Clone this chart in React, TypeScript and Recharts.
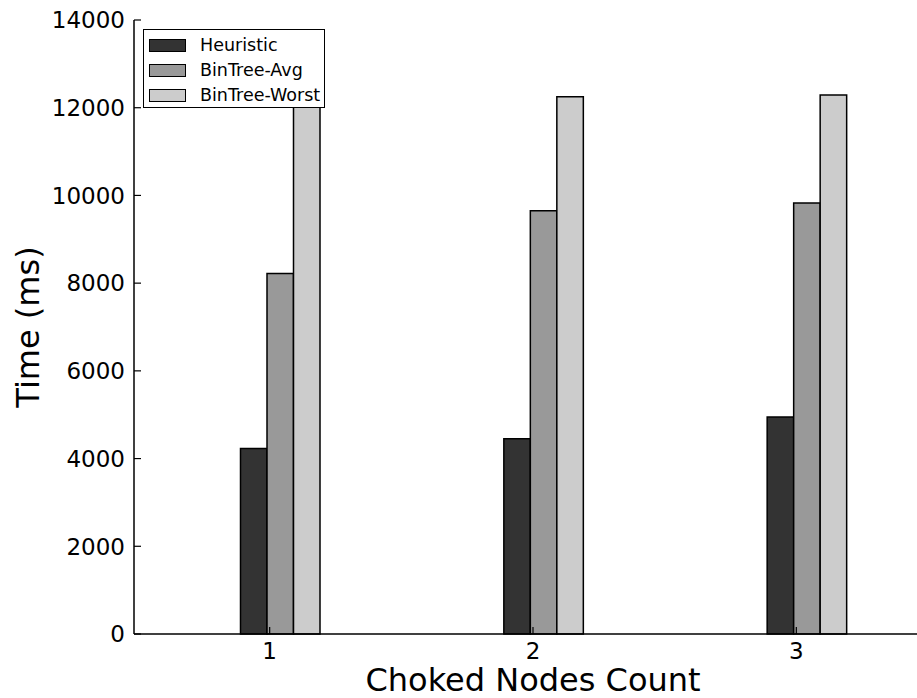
import React from 'react';
import { BarChart, Bar, XAxis, YAxis, Legend, Rectangle } from 'recharts';

// ── Data ──────────────────────────────────────────────────────

const CATEGORIES = ['1', '2', '3'];
const HEURISTIC = [4230, 4450, 4950];
const BINTREE_AVG = [8220, 9650, 9830];
const BINTREE_WORST = [12200, 12250, 12290];
const Y_TICKS = [0, 2000, 4000, 6000, 8000, 10000, 12000, 14000];

const SERIES = [
  { key: 'heuristic', name: 'Heuristic', color: '#333333' },
  { key: 'avg', name: 'BinTree-Avg', color: '#999999' },
  { key: 'worst', name: 'BinTree-Worst', color: '#cccccc' },
];

const data = CATEGORIES.map((name, i) => ({
  name,
  heuristic: HEURISTIC[i],
  avg: BINTREE_AVG[i],
  worst: BINTREE_WORST[i],
}));

// ── Layout ────────────────────────────────────────────────────

const FONT = '"DejaVu Sans", sans-serif';
const CHART_W = 936;
const CHART_H = 698;
const MARGIN = { top: 20, right: 4, bottom: 0, left: 0 };
const YAXIS_W = 134;
const XAXIS_H = 64;
const PLOT_TOP = MARGIN.top;
const PLOT_BOTTOM = CHART_H - MARGIN.bottom - XAXIS_H;
const PLOT_LEFT = MARGIN.left + YAXIS_W;
const TICK_LEN = 7;
const BAR_SHIFT = 10.5; // bars sit a little right of the tick, as in the original

// ── Ticks ─────────────────────────────────────────────────────

function YTick(props: any) {
  const { x, y, payload } = props;
  return (
    <g>
      <text x={x} y={y} dy="0.36em" textAnchor="end" fontSize={23} fontFamily={FONT} fill="#000">
        {payload.value}
      </text>
      <line x1={PLOT_LEFT} x2={PLOT_LEFT + TICK_LEN} y1={y} y2={y} stroke="#000" strokeWidth={1.2} />
    </g>
  );
}

function BottomTick(props: any) {
  const { x, y, payload } = props;
  return (
    <g>
      <text x={x} y={y} dy="0.72em" textAnchor="middle" fontSize={23} fontFamily={FONT} fill="#000">
        {payload.value}
      </text>
      <line x1={x} x2={x} y1={PLOT_BOTTOM} y2={PLOT_BOTTOM - TICK_LEN} stroke="#000" strokeWidth={1.2} />
    </g>
  );
}

function TopTick(props: any) {
  const { x } = props;
  return <line x1={x} x2={x} y1={PLOT_TOP} y2={PLOT_TOP + TICK_LEN} stroke="#000" strokeWidth={1.2} />;
}

function ShiftedBar(props: any) {
  return <Rectangle {...props} x={props.x + BAR_SHIFT} />;
}

// ── Legend ────────────────────────────────────────────────────

function LegendBox() {
  return (
    <div
      style={{
        position: 'relative',
        width: 182,
        height: 79,
        boxSizing: 'border-box',
        border: '1.5px solid #000',
        background: '#fff',
        fontFamily: FONT,
        fontSize: 17.5,
        color: '#000',
      }}
    >
      {SERIES.map((s, i) => (
        <div
          key={s.key}
          style={{ position: 'absolute', left: 5, top: 4 + i * 25, height: 22, display: 'flex', alignItems: 'center' }}
        >
          <div
            style={{
              width: 37,
              height: 13,
              boxSizing: 'border-box',
              border: '1.5px solid #000',
              background: s.color,
            }}
          />
          <span style={{ marginLeft: 14, whiteSpace: 'nowrap', lineHeight: '22px' }}>{s.name}</span>
        </div>
      ))}
    </div>
  );
}

// ── Chart ─────────────────────────────────────────────────────

export default function App() {
  return (
    <div
      style={{
        position: 'absolute',
        left: 0,
        top: 0,
        width: 917,
        height: 698,
        overflow: 'hidden',
        background: '#fff',
      }}
    >
      <BarChart width={CHART_W} height={CHART_H} data={data} margin={MARGIN} barGap={0}>
        <XAxis
          dataKey="name"
          height={XAXIS_H}
          padding={{ left: 4, right: 4 }}
          tickSize={0}
          tickMargin={8}
          tick={BottomTick}
          axisLine={{ stroke: '#000', strokeWidth: 1.5 }}
          label={{
            value: 'Choked Nodes Count',
            position: 'insideBottom',
            offset: 7,
            style: { fontSize: 32, fontFamily: FONT, fill: '#000' },
          }}
        />
        <XAxis
          xAxisId="top"
          orientation="top"
          dataKey="name"
          height={0}
          padding={{ left: 4, right: 4 }}
          tickSize={0}
          tick={TopTick}
          axisLine={{ stroke: '#000', strokeWidth: 1.5 }}
        />
        <YAxis
          width={YAXIS_W}
          domain={[0, 14000]}
          ticks={Y_TICKS}
          interval={0}
          tickSize={0}
          tickMargin={9}
          tick={YTick}
          axisLine={{ stroke: '#000', strokeWidth: 1.5 }}
          label={{
            value: 'Time (ms)',
            angle: -90,
            position: 'insideLeft',
            offset: 28,
            style: { fontSize: 32, fontFamily: FONT, fill: '#000', textAnchor: 'middle' },
          }}
        />
        <Legend
          layout="vertical"
          align="center"
          verticalAlign="middle"
          wrapperStyle={{ left: 143, top: 29, width: 182, height: 79 }}
          content={LegendBox}
        />
        {SERIES.map((s) => (
          <Bar
            key={s.key}
            dataKey={s.key}
            name={s.name}
            fill={s.color}
            stroke="#000"
            strokeWidth={1.5}
            barSize={26.5}
            shape={ShiftedBar}
            isAnimationActive={false}
          />
        ))}
      </BarChart>
    </div>
  );
}
